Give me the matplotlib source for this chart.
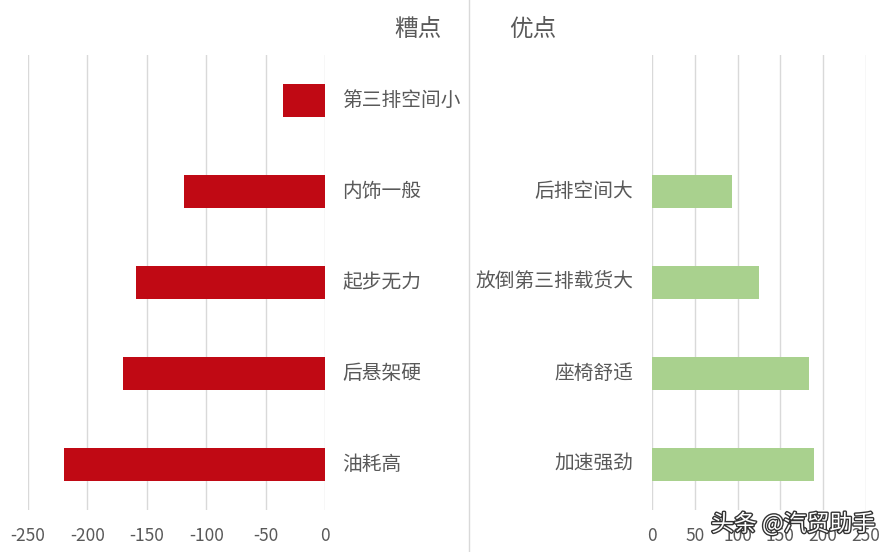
import matplotlib.pyplot as plt
import matplotlib.patheffects as pe

plt.rcParams['font.family'] = ['Noto Sans CJK SC', 'DejaVu Sans']

# 糟点 (negative side), top to bottom
bad_labels = ["第三排空间小", "内饰一般", "起步无力", "后悬架硬", "油耗高"]
bad_values = [-35, -119, -159, -170, -220]

# 优点, top slot is empty
good_labels = ["", "后排空间大", "放倒第三排载货大", "座椅舒适", "加速强劲"]
good_values = [0, 93, 125, 183, 189]

ticks_left = [-250, -200, -150, -100, -50, 0]
ticks_right = [0, 50, 100, 150, 200, 250]

W, H = 892, 552
fig = plt.figure(figsize=(W / 100, H / 100), dpi=100)

text_col = "#595959"
grid_col = "#d9d9d9"
bot, top = (H - 510) / H, (H - 55) / H

def style(ax, ticks, lim):
    ax.set_xlim(*lim)
    ax.set_ylim(4.5, -0.5)
    ax.set_xticks(ticks)
    ax.set_xticklabels([str(t) for t in ticks], color=text_col, fontsize=12.5)
    ax.tick_params(axis="x", length=0, pad=12)
    ax.set_yticks([])
    for s in ax.spines.values():
        s.set_visible(False)
    ax.grid(axis="x", color=grid_col, linewidth=1)
    ax.set_axisbelow(True)
    ax.patch.set_alpha(0)

# left panel
axl = fig.add_axes([28 / W, bot, (325 - 28) / W, top - bot])
style(axl, ticks_left, (-250, 0))
pos = list(range(len(bad_labels)))
axl.barh(pos, bad_values, height=0.36, color="#c00914")
for p, lab in zip(pos, bad_labels):
    axl.annotate(lab, (0, p), xytext=(17, 0), textcoords="offset pixels",
                 ha="left", va="center", fontsize=14.2, color=text_col,
                 annotation_clip=False)

# right panel
axr = fig.add_axes([652 / W, bot, (866 - 652) / W, top - bot])
style(axr, ticks_right, (0, 250))
pos = list(range(len(good_labels)))
axr.barh(pos, good_values, height=0.36, color="#a9d18e")
for p, lab in zip(pos, good_labels):
    axr.annotate(lab, (0, p), xytext=(-19, 0), textcoords="offset pixels",
                 ha="right", va="center", fontsize=14.2, color=text_col,
                 annotation_clip=False)

# titles and divider
fig.text(418 / W, 1 - 29 / H, "糟点", ha="center", va="center", fontsize=17, color=text_col)
fig.text(533 / W, 1 - 29 / H, "优点", ha="center", va="center", fontsize=17, color=text_col)
fig.add_artist(plt.Line2D([469 / W, 469 / W], [0, 1], color=grid_col, linewidth=1))

# watermark
fig.text(793 / W, 1 - 524 / H, "头条 @汽贸助手", ha="center", va="center",
         fontsize=16.5, color="white",
         path_effects=[pe.withStroke(linewidth=2, foreground="#333333")])

fig.savefig("out.png", dpi=100)
